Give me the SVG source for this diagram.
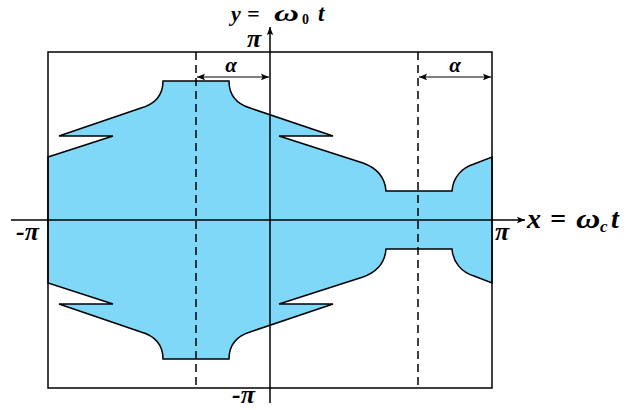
<svg xmlns="http://www.w3.org/2000/svg" width="644" height="410" viewBox="0 0 644 410">
<style>
.ln{stroke:#000;stroke-width:1.5;fill:none}
.dash{stroke:#000;stroke-width:1.5;fill:none;stroke-dasharray:8,5}
.t{font-family:"Liberation Serif","Times New Roman",serif;font-weight:bold;font-style:italic;fill:#000}
</style>
<defs>
<marker id="ah" viewBox="0 0 10 10" refX="10" refY="5" markerWidth="10" markerHeight="8" markerUnits="userSpaceOnUse" orient="auto-start-reverse">
<path d="M0,1 L10,5 L0,9 L2,5 Z" fill="#000"/>
</marker>
</defs>
<g id="region">
<path d="M48,157 L113,136 L59,136 L141,108 C155,104 163,95 163,81 L229,81 C229,95 237,104 250,108 L333,136 L279,136 L363,163 C377,168 385,178 386,191 L452,191 C453,178 461,168 474,164 L492,157 L492,283 L474,276 C461,272 453,262 452,249 L386,249 C385,262 377,272 363,277 L279,304 L333,304 L250,332 C237,336 229,345 229,359 L163,359 C163,345 155,336 141,332 L59,304 L113,304 L48,283 Z" fill="#80d8f8" stroke="#000" stroke-width="1.5" stroke-linejoin="miter"/>
</g>
<g id="frame">
<rect x="48" y="52" width="444" height="336" class="ln"/>
<line x1="196" y1="52" x2="196" y2="386" class="dash"/>
<line x1="418" y1="52" x2="418" y2="388" class="dash"/>
</g>
<g id="connectors">
<line x1="11" y1="220" x2="525" y2="220" class="ln" marker-end="url(#ah)"/>
<line x1="270" y1="403" x2="270" y2="27" class="ln" marker-end="url(#ah)"/>
<line x1="197" y1="77" x2="269" y2="77" stroke="#000" stroke-width="1.2" marker-start="url(#ah)" marker-end="url(#ah)"/>
<line x1="419" y1="77" x2="491" y2="77" stroke="#000" stroke-width="1.2" marker-start="url(#ah)" marker-end="url(#ah)"/>
</g>
<g id="labels">
<text class="t" y="21" font-size="22"><tspan x="231">y</tspan><tspan x="247">=</tspan><tspan x="302" y="24" font-size="14" font-style="normal">0</tspan><tspan x="318" y="21" font-size="23">t</tspan></text>
<text class="t" font-size="23" transform="translate(274,21) scale(1.5,1)">ω</text>
<text class="t" y="228" font-size="28"><tspan x="527">x</tspan><tspan x="550">=</tspan><tspan x="600" y="232" font-size="17">c</tspan><tspan x="611" y="228">t</tspan></text>
<text class="t" font-size="28" transform="translate(576,228) scale(1.2,1)">ω</text>
<text class="t" x="247" y="47" font-size="26">π</text>
<text class="t" x="495" y="240" font-size="26">π</text>
<text class="t" x="16" y="240" font-size="26">-π</text>
<text class="t" x="232" y="403" font-size="26">-π</text>
<text class="t" x="231" y="72" font-size="21" text-anchor="middle">α</text>
<text class="t" x="455" y="72" font-size="21" text-anchor="middle">α</text>
</g>
</svg>
